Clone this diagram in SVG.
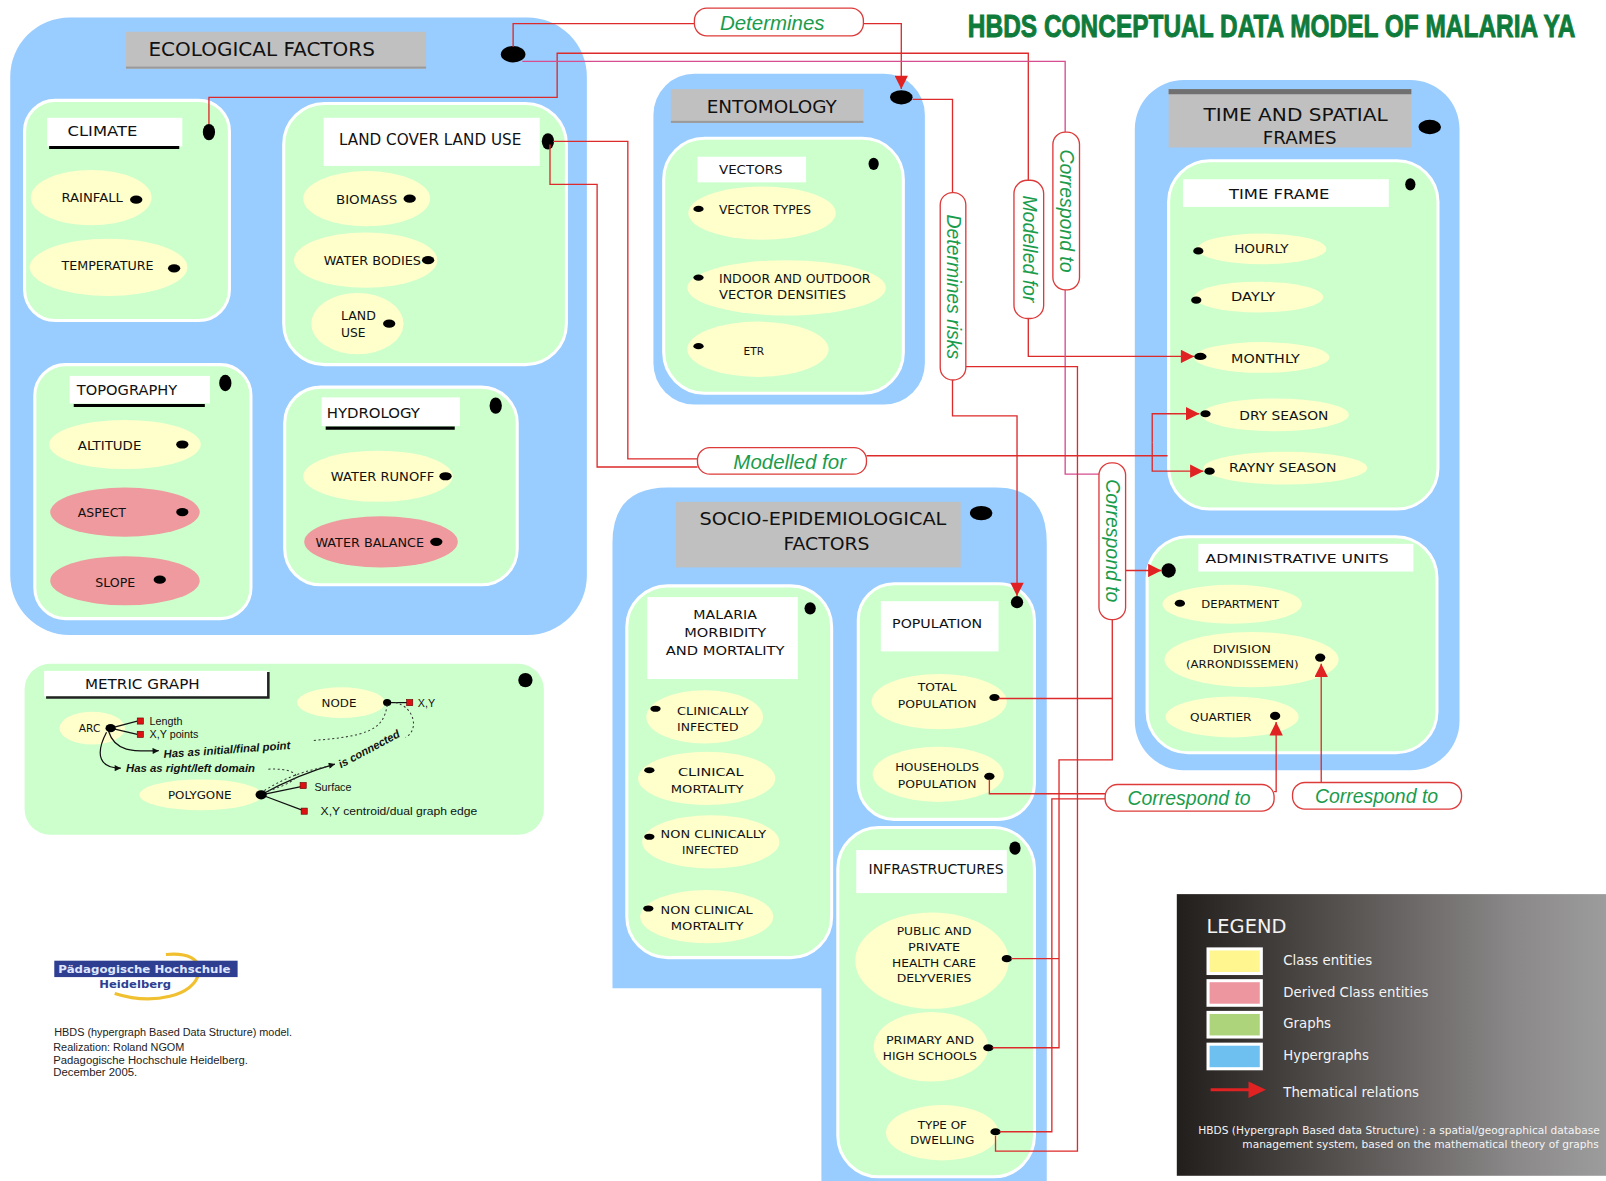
<svg xmlns="http://www.w3.org/2000/svg" width="1606" height="1181" viewBox="0 0 1606 1181">
<defs>
<style>
.hg{fill:#99ccff}
.gr{fill:#ccffcc;stroke:#ffffff;stroke-width:3}
.cl{fill:#ffffcc}
.dc{fill:#ee9a9e}
.wl{fill:#ffffff}
.tb{fill:#c0c0c0}
.dot{fill:#000000}
.ul{stroke:#000000;stroke-width:3}
.t{font-family:"DejaVu Sans","Liberation Sans",sans-serif;fill:#111111}
.c{fill:none;stroke:#dd2a2a;stroke-width:1.3}
.cp{fill:none;stroke:#d64c8e;stroke-width:1.3}
.rb{fill:#ffffff;stroke:#dd3a3a;stroke-width:1.3}
.rt{font-family:"Liberation Sans","DejaVu Sans",sans-serif;font-style:italic;fill:#1a9c4c;font-size:19px}
.mg{font-family:"Liberation Sans",sans-serif;fill:#111111;font-size:10.5px}
.mi{font-family:"Liberation Sans",sans-serif;font-style:italic;font-weight:bold;fill:#111111;font-size:11px}
.sq{fill:#dd1111;stroke:#660000;stroke-width:0.6}
.bl{fill:none;stroke:#111111;stroke-width:1.2}
.dt{fill:none;stroke:#333333;stroke-width:1;stroke-dasharray:2 2.5}
.lg{font-family:"DejaVu Sans","Liberation Sans",sans-serif;fill:#f4f4f4}
.ft{font-family:"Liberation Sans",sans-serif;fill:#222222;font-size:10px}
</style>
<marker id="ar" viewBox="0 0 10 10" refX="10" refY="5" markerWidth="14" markerHeight="13" markerUnits="userSpaceOnUse" orient="auto"><path d="M0,0 L10,5 L0,10 z" fill="#e02222"/></marker>
<marker id="ab" viewBox="0 0 10 10" refX="10" refY="5" markerWidth="7" markerHeight="6" markerUnits="userSpaceOnUse" orient="auto"><path d="M0,0 L10,5 L0,10 z" fill="#111111"/></marker>
<linearGradient id="lgd" x1="0" y1="0" x2="1" y2="0">
<stop offset="0" stop-color="#221e1c"/>
<stop offset="0.35" stop-color="#575351"/>
<stop offset="0.7" stop-color="#8a8888"/>
<stop offset="1" stop-color="#a8a8a8"/>
</linearGradient>
</defs>
<rect x="0" y="0" width="1606" height="1181" fill="#ffffff"/>
<g transform="scale(1.0242)">

<g id="title">
<text transform="translate(945,36) scale(0.77,1)" x="0" y="0" font-family="Liberation Sans, sans-serif" font-weight="bold" font-size="31" fill="#0f7b3b" stroke="#0f7b3b" stroke-width="0.9">HBDS CONCEPTUAL DATA MODEL OF MALARIA YA</text>
</g>

<g id="ecological-factors">
<rect class="hg" x="10" y="17" width="563" height="603" rx="58"/>
<rect class="tb" x="123" y="31" width="293" height="36"/>
<rect x="123" y="65" width="293" height="2" fill="#9a9a9a"/>
<text class="t" x="145" y="55" font-size="19" textLength="221" lengthAdjust="spacingAndGlyphs">ECOLOGICAL FACTORS</text>
<ellipse class="dot" cx="501" cy="53" rx="12" ry="8"/>
</g>

<g id="climate">
<rect class="gr" x="24" y="98" width="200" height="215" rx="30"/>
<rect class="wl" x="46" y="115" width="132" height="28"/>
<line class="ul" x1="48" y1="144" x2="175" y2="144"/>
<text class="t" x="66" y="133" font-size="14" textLength="68" lengthAdjust="spacingAndGlyphs">CLIMATE</text>
<ellipse class="dot" cx="204" cy="129" rx="6" ry="8"/>
<ellipse class="cl" cx="89" cy="193" rx="59" ry="27"/>
<text class="t" x="60" y="197" font-size="12" textLength="60" lengthAdjust="spacingAndGlyphs">RAINFALL</text>
<ellipse class="dot" cx="133" cy="195" rx="6" ry="4"/>
<ellipse class="cl" cx="106" cy="261" rx="77" ry="28"/>
<text class="t" x="60" y="264" font-size="12" textLength="90" lengthAdjust="spacingAndGlyphs">TEMPERATURE</text>
<ellipse class="dot" cx="170" cy="262" rx="6" ry="4"/>
</g>

<g id="land-cover-land-use">
<rect class="gr" x="277" y="101" width="276" height="255" rx="40"/>
<rect class="wl" x="316" y="115" width="211" height="47"/>
<text class="t" x="331" y="142" font-size="15" textLength="178" lengthAdjust="spacingAndGlyphs">LAND COVER LAND USE</text>
<ellipse class="dot" cx="535" cy="138" rx="6" ry="8"/>
<ellipse class="cl" cx="358" cy="194" rx="62" ry="27"/>
<text class="t" x="328" y="199" font-size="12" textLength="60" lengthAdjust="spacingAndGlyphs">BIOMASS</text>
<ellipse class="dot" cx="400" cy="194" rx="6" ry="4"/>
<ellipse class="cl" cx="357" cy="254" rx="70" ry="27"/>
<text class="t" x="316" y="259" font-size="12" textLength="95" lengthAdjust="spacingAndGlyphs">WATER BODIES</text>
<ellipse class="dot" cx="418" cy="254" rx="6" ry="4"/>
<ellipse class="cl" cx="349" cy="316" rx="45" ry="30"/>
<text class="t" x="333" y="312" font-size="12" textLength="34" lengthAdjust="spacingAndGlyphs">LAND</text>
<text class="t" x="333" y="329" font-size="12" textLength="24" lengthAdjust="spacingAndGlyphs">USE</text>
<ellipse class="dot" cx="380" cy="316" rx="6" ry="4"/>
</g>

<g id="topography">
<rect class="gr" x="34" y="356" width="211" height="248" rx="30"/>
<rect class="wl" x="68" y="367" width="137" height="27"/>
<line class="ul" x1="72" y1="396" x2="200" y2="396"/>
<text class="t" x="75" y="386" font-size="14" textLength="98" lengthAdjust="spacingAndGlyphs">TOPOGRAPHY</text>
<ellipse class="dot" cx="220" cy="374" rx="6" ry="8"/>
<ellipse class="cl" cx="122" cy="434" rx="74" ry="24"/>
<text class="t" x="76" y="439" font-size="12" textLength="62" lengthAdjust="spacingAndGlyphs">ALTITUDE</text>
<ellipse class="dot" cx="178" cy="434" rx="6" ry="4"/>
<ellipse class="dc" cx="122" cy="500" rx="73" ry="24"/>
<text class="t" x="76" y="505" font-size="12" textLength="47" lengthAdjust="spacingAndGlyphs">ASPECT</text>
<ellipse class="dot" cx="178" cy="500" rx="6" ry="4"/>
<ellipse class="dc" cx="122" cy="567" rx="73" ry="24"/>
<text class="t" x="93" y="573" font-size="12" textLength="39" lengthAdjust="spacingAndGlyphs">SLOPE</text>
<ellipse class="dot" cx="156" cy="566" rx="6" ry="4"/>
</g>

<g id="hydrology">
<rect class="gr" x="278" y="378" width="227" height="193" rx="35"/>
<rect class="wl" x="314" y="388" width="135" height="28"/>
<line class="ul" x1="318" y1="418" x2="444" y2="418"/>
<text class="t" x="319" y="408" font-size="14" textLength="91" lengthAdjust="spacingAndGlyphs">HYDROLOGY</text>
<ellipse class="dot" cx="484" cy="396" rx="6" ry="8"/>
<ellipse class="cl" cx="369" cy="465" rx="73" ry="25"/>
<text class="t" x="323" y="470" font-size="12" textLength="101" lengthAdjust="spacingAndGlyphs">WATER RUNOFF</text>
<ellipse class="dot" cx="435" cy="465" rx="6" ry="4"/>
<ellipse class="dc" cx="372" cy="529" rx="75" ry="25"/>
<text class="t" x="308" y="534" font-size="12" textLength="106" lengthAdjust="spacingAndGlyphs">WATER BALANCE</text>
<ellipse class="dot" cx="426" cy="529" rx="6" ry="4"/>
</g>

<g id="metric-graph">
<rect x="24" y="648" width="507" height="167" rx="25" fill="#ccffcc"/>
<rect class="wl" x="43" y="655" width="219" height="25"/>
<path d="M262,656 V681 H45" fill="none" stroke="#222222" stroke-width="2.5"/>
<text class="t" x="83" y="673" font-size="13.5" textLength="112" lengthAdjust="spacingAndGlyphs">METRIC GRAPH</text>
<circle class="dot" cx="513" cy="664" r="7"/>
<ellipse class="cl" cx="333" cy="686" rx="43" ry="15"/>
<text class="t" x="314" y="690" font-size="11" textLength="34" lengthAdjust="spacingAndGlyphs">NODE</text>
<line class="bl" x1="378" y1="686" x2="398" y2="686"/>
<ellipse class="dot" cx="378" cy="686" rx="4" ry="3.5"/>
<rect class="sq" x="397" y="683" width="6" height="6"/>
<text class="mg" x="408" y="690">X,Y</text>
<ellipse class="cl" cx="90" cy="711" rx="32" ry="16"/>
<text class="t" x="77" y="715" font-size="10" textLength="21" lengthAdjust="spacingAndGlyphs">ARC</text>
<line class="bl" x1="108" y1="711" x2="134" y2="704"/>
<line class="bl" x1="108" y1="711" x2="134" y2="717"/>
<ellipse class="dot" cx="108" cy="711" rx="5" ry="4"/>
<rect class="sq" x="134" y="701" width="6" height="6"/>
<rect class="sq" x="134" y="714" width="6" height="6"/>
<text class="mg" x="146" y="708">Length</text>
<text class="mg" x="146" y="721">X,Y points</text>
<path class="bl" d="M106,714 C112,734 130,734 155,733" marker-end="url(#ab)"/>
<text class="mi" x="160" y="740" transform="rotate(-4 160 740)" textLength="124" lengthAdjust="spacingAndGlyphs">Has as initial/final point</text>
<path class="bl" d="M104,715 C92,738 98,750 118,750" marker-end="url(#ab)"/>
<text class="mi" x="123" y="754" textLength="126" lengthAdjust="spacingAndGlyphs">Has as right/left domain</text>
<ellipse class="cl" cx="196" cy="776" rx="60" ry="15"/>
<text class="t" x="164" y="780" font-size="11" textLength="62" lengthAdjust="spacingAndGlyphs">POLYGONE</text>
<line class="bl" x1="255" y1="776" x2="294" y2="768"/>
<line class="bl" x1="255" y1="776" x2="295" y2="791"/>
<rect class="sq" x="293" y="764" width="6" height="6"/>
<rect class="sq" x="294" y="789" width="6" height="6"/>
<text class="mg" x="307" y="772">Surface</text>
<text class="mg" x="313" y="796" textLength="153" lengthAdjust="spacingAndGlyphs">X,Y centroid/dual graph edge</text>
<path class="bl" d="M255,776 C280,762 305,752 327,746" marker-end="url(#ab)"/>
<text class="mi" transform="translate(333,750) rotate(-28)" textLength="66" lengthAdjust="spacingAndGlyphs">is connected</text>
<ellipse class="dot" cx="255" cy="776" rx="5.5" ry="4.5"/>
<path class="dt" d="M378,688 C375,712 360,719 305,723"/>
<path class="dt" d="M386,686 C404,690 410,712 396,720"/>
<path class="dt" d="M262,751 C284,750 292,756 288,760 C282,766 268,770 260,773"/>
<path class="dt" d="M258,772 C280,758 300,752 322,748"/>
</g>

<g id="entomology">
<rect class="hg" x="638" y="72" width="265" height="323" rx="40"/>
<rect class="tb" x="655" y="87" width="188" height="33"/>
<rect x="655" y="118" width="188" height="2" fill="#9a9a9a"/>
<text class="t" x="690" y="110" font-size="17" textLength="127" lengthAdjust="spacingAndGlyphs">ENTOMOLOGY</text>
<ellipse class="dot" cx="880" cy="95" rx="11" ry="7"/>
</g>

<g id="vectors">
<rect class="gr" x="648" y="135" width="234" height="249" rx="40"/>
<rect class="wl" x="681" y="153" width="106" height="25"/>
<text class="t" x="702" y="170" font-size="12" textLength="62" lengthAdjust="spacingAndGlyphs">VECTORS</text>
<ellipse class="dot" cx="853" cy="160" rx="5" ry="6"/>
<ellipse class="cl" cx="744" cy="208" rx="72" ry="26"/>
<text class="t" x="702" y="209" font-size="11.5" textLength="90" lengthAdjust="spacingAndGlyphs">VECTOR TYPES</text>
<ellipse class="dot" cx="682" cy="204" rx="5" ry="3"/>
<ellipse class="cl" cx="768" cy="281" rx="97" ry="27"/>
<text class="t" x="702" y="276" font-size="11.5" textLength="148" lengthAdjust="spacingAndGlyphs">INDOOR AND OUTDOOR</text>
<text class="t" x="702" y="292" font-size="11.5" textLength="124" lengthAdjust="spacingAndGlyphs">VECTOR DENSITIES</text>
<ellipse class="dot" cx="682" cy="271" rx="5" ry="3"/>
<ellipse class="cl" cx="740" cy="341" rx="69" ry="27"/>
<text class="t" x="726" y="347" font-size="11" textLength="20" lengthAdjust="spacingAndGlyphs">ETR</text>
<ellipse class="dot" cx="682" cy="338" rx="5" ry="3"/>
</g>

<g id="time-and-spatial-frames">
<rect class="hg" x="1108" y="78" width="317" height="674" rx="48"/>
<rect class="tb" x="1141" y="87" width="237" height="57"/>
<rect x="1141" y="87" width="237" height="5" fill="#707070"/>
<text class="t" x="1175" y="118" font-size="17" textLength="180" lengthAdjust="spacingAndGlyphs">TIME AND SPATIAL</text>
<text class="t" x="1233" y="141" font-size="17" textLength="72" lengthAdjust="spacingAndGlyphs">FRAMES</text>
<ellipse class="dot" cx="1396" cy="124" rx="11" ry="7"/>
</g>

<g id="time-frame">
<rect class="gr" x="1141" y="157" width="263" height="340" rx="40"/>
<rect class="wl" x="1155" y="175" width="201" height="27"/>
<text class="t" x="1200" y="194" font-size="14" textLength="98" lengthAdjust="spacingAndGlyphs">TIME FRAME</text>
<ellipse class="dot" cx="1377" cy="180" rx="5" ry="6"/>
<ellipse class="cl" cx="1232" cy="243" rx="63" ry="15"/>
<text class="t" x="1205" y="247" font-size="12" textLength="53" lengthAdjust="spacingAndGlyphs">HOURLY</text>
<ellipse class="dot" cx="1170" cy="245" rx="5" ry="3.5"/>
<ellipse class="cl" cx="1229" cy="290" rx="63" ry="15"/>
<text class="t" x="1202" y="294" font-size="12" textLength="43" lengthAdjust="spacingAndGlyphs">DAYLY</text>
<ellipse class="dot" cx="1168" cy="293" rx="5" ry="3.5"/>
<ellipse class="cl" cx="1232" cy="349" rx="66" ry="15"/>
<text class="t" x="1202" y="354" font-size="12" textLength="67" lengthAdjust="spacingAndGlyphs">MONTHLY</text>
<ellipse class="dot" cx="1172" cy="348" rx="6" ry="3.5"/>
<ellipse class="cl" cx="1245" cy="405" rx="72" ry="16"/>
<text class="t" x="1210" y="410" font-size="12" textLength="87" lengthAdjust="spacingAndGlyphs">DRY SEASON</text>
<ellipse class="dot" cx="1177" cy="404" rx="5" ry="3.5"/>
<ellipse class="cl" cx="1255" cy="457" rx="80" ry="16"/>
<text class="t" x="1200" y="461" font-size="12" textLength="105" lengthAdjust="spacingAndGlyphs">RAYNY SEASON</text>
<ellipse class="dot" cx="1181" cy="460" rx="5" ry="3.5"/>
</g>

<g id="administrative-units">
<rect class="gr" x="1120" y="524" width="283" height="211" rx="40"/>
<rect class="wl" x="1170" y="531" width="210" height="27"/>
<text class="t" x="1177" y="550" font-size="12.5" textLength="179" lengthAdjust="spacingAndGlyphs">ADMINISTRATIVE UNITS</text>
<circle class="dot" cx="1141" cy="557" r="7"/>
<ellipse class="cl" cx="1203" cy="590" rx="68" ry="19"/>
<text class="t" x="1173" y="594" font-size="11" textLength="76" lengthAdjust="spacingAndGlyphs">DEPARTMENT</text>
<ellipse class="dot" cx="1152" cy="589" rx="5" ry="3.5"/>
<ellipse class="cl" cx="1222" cy="644" rx="85" ry="27"/>
<text class="t" x="1184" y="638" font-size="11" textLength="57" lengthAdjust="spacingAndGlyphs">DIVISION</text>
<text class="t" x="1158" y="652" font-size="11" textLength="110" lengthAdjust="spacingAndGlyphs">(ARRONDISSEMEN)</text>
<ellipse class="dot" cx="1289" cy="642" rx="5" ry="4"/>
<ellipse class="cl" cx="1203" cy="700" rx="65" ry="20"/>
<text class="t" x="1162" y="704" font-size="11" textLength="60" lengthAdjust="spacingAndGlyphs">QUARTIER</text>
<ellipse class="dot" cx="1245" cy="699" rx="5" ry="4"/>
</g>

<g id="socio-epidemiological-factors">
<path class="hg" d="M598,530 Q598,476 652,476 L972,476 Q1022,476 1022,530 L1022,1160 L802,1160 L802,965 L598,965 Z"/>
<rect class="tb" x="660" y="490" width="278" height="64"/>
<text class="t" x="683" y="513" font-size="17" textLength="241" lengthAdjust="spacingAndGlyphs">SOCIO-EPIDEMIOLOGICAL</text>
<text class="t" x="765" y="537" font-size="17" textLength="84" lengthAdjust="spacingAndGlyphs">FACTORS</text>
<ellipse class="dot" cx="958" cy="501" rx="11" ry="7"/>
</g>

<g id="malaria-morbidity-mortality">
<rect class="gr" x="612" y="572" width="200" height="363" rx="40"/>
<rect class="wl" x="632" y="583" width="147" height="80"/>
<text class="t" x="677" y="604" font-size="12.5" textLength="62" lengthAdjust="spacingAndGlyphs">MALARIA</text>
<text class="t" x="668" y="622" font-size="12.5" textLength="80" lengthAdjust="spacingAndGlyphs">MORBIDITY</text>
<text class="t" x="650" y="640" font-size="12.5" textLength="116" lengthAdjust="spacingAndGlyphs">AND MORTALITY</text>
<ellipse class="dot" cx="791" cy="594" rx="5.5" ry="6"/>
<ellipse class="cl" cx="688" cy="700" rx="57" ry="26"/>
<text class="t" x="661" y="698" font-size="11" textLength="70" lengthAdjust="spacingAndGlyphs">CLINICALLY</text>
<text class="t" x="661" y="714" font-size="11" textLength="60" lengthAdjust="spacingAndGlyphs">INFECTED</text>
<ellipse class="dot" cx="640" cy="692" rx="5" ry="3"/>
<ellipse class="cl" cx="690" cy="760" rx="67" ry="26"/>
<text class="t" x="662" y="758" font-size="11" textLength="64" lengthAdjust="spacingAndGlyphs">CLINICAL</text>
<text class="t" x="655" y="774" font-size="11" textLength="71" lengthAdjust="spacingAndGlyphs">MORTALITY</text>
<ellipse class="dot" cx="634" cy="752" rx="5" ry="3"/>
<ellipse class="cl" cx="694" cy="822" rx="67" ry="26"/>
<text class="t" x="645" y="818" font-size="11" textLength="103" lengthAdjust="spacingAndGlyphs">NON CLINICALLY</text>
<text class="t" x="666" y="834" font-size="11" textLength="55" lengthAdjust="spacingAndGlyphs">INFECTED</text>
<ellipse class="dot" cx="634" cy="817" rx="5" ry="3"/>
<ellipse class="cl" cx="690" cy="895" rx="65" ry="26"/>
<text class="t" x="645" y="892" font-size="11" textLength="90" lengthAdjust="spacingAndGlyphs">NON CLINICAL</text>
<text class="t" x="655" y="908" font-size="11" textLength="71" lengthAdjust="spacingAndGlyphs">MORTALITY</text>
<ellipse class="dot" cx="633" cy="887" rx="5" ry="3"/>
</g>

<g id="population">
<rect class="gr" x="838" y="570" width="172" height="230" rx="35"/>
<rect class="wl" x="860" y="587" width="115" height="49"/>
<text class="t" x="871" y="613" font-size="12.5" textLength="88" lengthAdjust="spacingAndGlyphs">POPULATION</text>
<circle class="dot" cx="993" cy="588" r="6"/>
<ellipse class="cl" cx="917" cy="685" rx="66" ry="27"/>
<text class="t" x="915" y="675" font-size="11" text-anchor="middle" textLength="38" lengthAdjust="spacingAndGlyphs">TOTAL</text>
<text class="t" x="915" y="691" font-size="11" text-anchor="middle" textLength="77" lengthAdjust="spacingAndGlyphs">POPULATION</text>
<ellipse class="dot" cx="971" cy="681" rx="5" ry="3.5"/>
<ellipse class="cl" cx="916" cy="756" rx="64" ry="27"/>
<text class="t" x="915" y="753" font-size="11" text-anchor="middle" textLength="82" lengthAdjust="spacingAndGlyphs">HOUSEHOLDS</text>
<text class="t" x="915" y="769" font-size="11" text-anchor="middle" textLength="77" lengthAdjust="spacingAndGlyphs">POPULATION</text>
<ellipse class="dot" cx="966" cy="758" rx="5" ry="3.5"/>
</g>

<g id="infrastructures">
<rect class="gr" x="818" y="808" width="192" height="341" rx="40"/>
<rect class="wl" x="836" y="830" width="147" height="42"/>
<text class="t" x="848" y="853" font-size="13" textLength="132" lengthAdjust="spacingAndGlyphs">INFRASTRUCTURES</text>
<ellipse class="dot" cx="991" cy="828" rx="5.5" ry="6.5"/>
<ellipse class="cl" cx="910" cy="938" rx="75" ry="47"/>
<text class="t" x="912" y="913" font-size="11" text-anchor="middle" textLength="73" lengthAdjust="spacingAndGlyphs">PUBLIC AND</text>
<text class="t" x="912" y="929" font-size="11" text-anchor="middle" textLength="51" lengthAdjust="spacingAndGlyphs">PRIVATE</text>
<text class="t" x="912" y="944" font-size="11" text-anchor="middle" textLength="82" lengthAdjust="spacingAndGlyphs">HEALTH CARE</text>
<text class="t" x="912" y="959" font-size="11" text-anchor="middle" textLength="73" lengthAdjust="spacingAndGlyphs">DELYVERIES</text>
<ellipse class="dot" cx="983" cy="936" rx="5" ry="3.5"/>
<ellipse class="cl" cx="909" cy="1022" rx="56" ry="34"/>
<text class="t" x="908" y="1019" font-size="11" text-anchor="middle" textLength="86" lengthAdjust="spacingAndGlyphs">PRIMARY AND</text>
<text class="t" x="908" y="1035" font-size="11" text-anchor="middle" textLength="92" lengthAdjust="spacingAndGlyphs">HIGH SCHOOLS</text>
<ellipse class="dot" cx="965" cy="1023" rx="5" ry="3.5"/>
<ellipse class="cl" cx="920" cy="1106" rx="55" ry="27"/>
<text class="t" x="920" y="1102" font-size="11" text-anchor="middle" textLength="48" lengthAdjust="spacingAndGlyphs">TYPE OF</text>
<text class="t" x="920" y="1117" font-size="11" text-anchor="middle" textLength="63" lengthAdjust="spacingAndGlyphs">DWELLING</text>
<ellipse class="dot" cx="972" cy="1105" rx="5" ry="3.5"/>
</g>

<g id="connectors">
<path class="c" d="M501,46 V23 H678"/>
<path class="c" d="M843,23 H880 V87" marker-end="url(#ar)"/>
<path class="c" d="M204,121 V95 H544 V52 H1004 V176"/>
<path class="c" d="M1004,311 V348 H1166" marker-end="url(#ar)"/>
<path class="cp" d="M510,60 H1040 V129"/>
<path class="cp" d="M1040,283 V463 H1073"/>
<path class="c" d="M1099,557 H1134" marker-end="url(#ar)"/>
<path class="c" d="M1086,605 V742 H1034 V1023 H969"/>
<path class="c" d="M1086,682 H975"/>
<path class="c" d="M1034,936 H987"/>
<path class="c" d="M891,97 H930 V188"/>
<path class="c" d="M930,371 V406 H993 V582" marker-end="url(#ar)"/>
<path class="c" d="M943,358 H1052 V1124 H972 V1109"/>
<path class="c" d="M540,138 H613 V448 H681"/>
<path class="c" d="M537,141 V180 H583 V456 H681"/>
<path class="c" d="M846,445 H1140"/>
<path class="c" d="M1125,432 V404 H1171" marker-end="url(#ar)"/>
<path class="c" d="M1125,432 V460 H1175" marker-end="url(#ar)"/>
<path class="c" d="M966,761 V775 H1079"/>
<path class="c" d="M976,1105 H1027 V780 H1079"/>
<path class="c" d="M1244,773 H1246 V705" marker-end="url(#ar)"/>
<path class="c" d="M1290,764 V648" marker-end="url(#ar)"/>

<rect class="rb" x="678" y="8" width="165" height="27" rx="12"/>
<text class="rt" x="754" y="29" text-anchor="middle" style="font-size:20px">Determines</text>
<rect class="rb" x="681" y="437" width="165" height="26" rx="12"/>
<text class="rt" x="771" y="458" text-anchor="middle" style="font-size:20px">Modelled for</text>
<rect class="rb" x="918" y="188" width="25" height="183" rx="12"/>
<text class="rt" transform="translate(930.5,280) rotate(90)" x="0" y="6" text-anchor="middle">Determines risks</text>
<rect class="rb" x="990" y="176" width="29" height="135" rx="13"/>
<text class="rt" transform="translate(1004.5,243) rotate(90)" x="0" y="6" text-anchor="middle">Modelled for</text>
<rect class="rb" x="1028" y="129" width="26" height="154" rx="12"/>
<text class="rt" transform="translate(1041,206) rotate(90)" x="0" y="6" text-anchor="middle">Correspond to</text>
<rect class="rb" x="1073" y="452" width="26" height="153" rx="12"/>
<text class="rt" transform="translate(1086,528) rotate(90)" x="0" y="6" text-anchor="middle">Correspond to</text>
<rect class="rb" x="1079" y="766" width="165" height="26" rx="12"/>
<text class="rt" x="1161" y="786" text-anchor="middle">Correspond to</text>
<rect class="rb" x="1262" y="764" width="165" height="26" rx="12"/>
<text class="rt" x="1344" y="784" text-anchor="middle">Correspond to</text>
</g>

<g id="legend">
<rect x="1149" y="873" width="470" height="275" fill="url(#lgd)"/>
<text class="lg" x="1178" y="911" font-size="19.5" textLength="78" lengthAdjust="spacingAndGlyphs">LEGEND</text>
<rect x="1178" y="925" width="55" height="27" fill="#ffffff"/>
<rect x="1181" y="928" width="49" height="21" fill="#fff68f"/>
<rect x="1178" y="956" width="55" height="27" fill="#ffffff"/>
<rect x="1181" y="959" width="49" height="21" fill="#ee96a0"/>
<rect x="1178" y="987" width="55" height="27" fill="#ffffff"/>
<rect x="1181" y="990" width="49" height="21" fill="#add47a"/>
<rect x="1178" y="1018" width="55" height="27" fill="#ffffff"/>
<rect x="1181" y="1021" width="49" height="21" fill="#6ec0f0"/>
<line x1="1182" y1="1064" x2="1222" y2="1064" stroke="#e02222" stroke-width="3"/>
<polygon points="1219,1056 1236,1064 1219,1072" fill="#e02222"/>
<text class="lg" x="1253" y="942" font-size="13">Class entities</text>
<text class="lg" x="1253" y="973" font-size="13">Derived Class entities</text>
<text class="lg" x="1253" y="1004" font-size="13">Graphs</text>
<text class="lg" x="1253" y="1035" font-size="13">Hypergraphs</text>
<text class="lg" x="1253" y="1071" font-size="13">Thematical relations</text>
<text class="lg" x="1170" y="1107" font-size="10.5" textLength="392" lengthAdjust="spacingAndGlyphs">HBDS (Hypergraph Based data Structure) : a spatial/geographical database</text>
<text class="lg" x="1213" y="1121" font-size="10.5" textLength="348" lengthAdjust="spacingAndGlyphs">management system, based on the mathematical theory of graphs</text>
</g>

<g id="logo">
<path d="M112,970 C150,982 190,972 194,950 C197,936 182,930 162,932" fill="none" stroke="#f0c030" stroke-width="3"/>
<rect x="53" y="938" width="179" height="16" fill="#2e3f91"/>
<text x="57" y="950" font-family="DejaVu Sans, sans-serif" font-weight="bold" font-size="10" fill="#dfe6ff" textLength="168" lengthAdjust="spacingAndGlyphs">Pädagogische Hochschule</text>
<text x="97" y="965" font-family="DejaVu Sans, sans-serif" font-weight="bold" font-size="10" fill="#2e3f91" textLength="70" lengthAdjust="spacingAndGlyphs">Heidelberg</text>
</g>

<g id="credits">
<text class="ft" x="53" y="1012" textLength="232" lengthAdjust="spacingAndGlyphs">HBDS (hypergraph Based Data Structure) model.</text>
<text class="ft" x="52" y="1026" textLength="128" lengthAdjust="spacingAndGlyphs">Realization: Roland NGOM</text>
<text class="ft" x="52" y="1039" textLength="190" lengthAdjust="spacingAndGlyphs">Padagogische Hochschule Heidelberg.</text>
<text class="ft" x="52" y="1051" textLength="82" lengthAdjust="spacingAndGlyphs">December 2005.</text>
</g>

</g>
</svg>
